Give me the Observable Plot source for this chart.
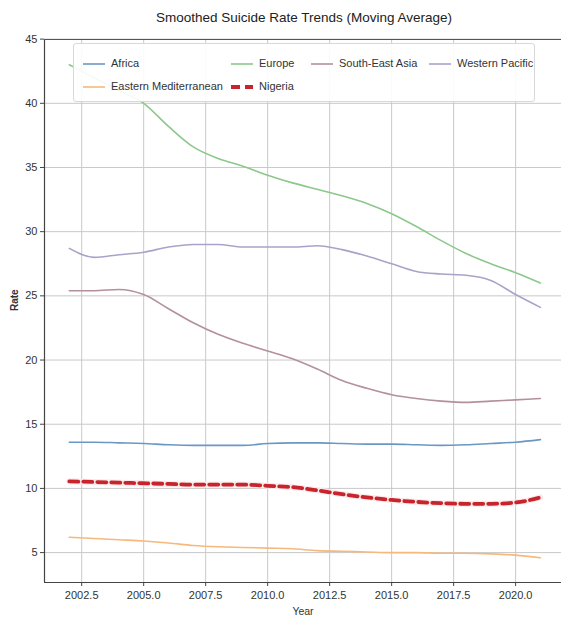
<!DOCTYPE html>
<html>
<head>
<meta charset="utf-8">
<script src="https://cdn.jsdelivr.net/npm/d3@7"></script>
<script src="https://cdn.jsdelivr.net/npm/@observablehq/plot@0.6"></script>
<style>
  body { margin: 0; background: #fff; }
  #wrap { position: relative; width: 561px; height: 630px; overflow: hidden;
          font-family: "Liberation Sans", Arial, sans-serif; color: #333; }
  #title { position: absolute; left: 0; top: 10px; width: 608px; text-align: center; font-size: 13.5px; color: #222; }
  #plot { position: absolute; left: 0; top: 30px; }
  #legend { position: absolute; left: 73px; top: 43px; width: 462px; height: 59px; box-sizing: border-box;
            background: rgba(255,255,255,0.9); border: 1px solid #d8d8d8; border-radius: 3px; }
  .item { position: absolute; font-size: 11px; color: #333; white-space: nowrap; line-height: 14px; }
  .item svg { vertical-align: middle; margin-right: 5px; }
</style>
</head>
<body>
<div id="wrap">
  <div id="title">Smoothed Suicide Rate Trends (Moving Average)</div>
  <div id="plot"></div>
  <div id="legend"></div>
</div>
<script>
// Years covered by the smoothed series
const years = [2002, 2003, 2004, 2005, 2006, 2007, 2008, 2009, 2010, 2011,
               2012, 2013, 2014, 2015, 2016, 2017, 2018, 2019, 2020, 2021];

// Moving-average suicide rates per WHO region and for Nigeria
const africa        = [13.6, 13.6, 13.55, 13.5, 13.4, 13.35, 13.35, 13.35, 13.5, 13.55,
                       13.55, 13.5, 13.45, 13.45, 13.4, 13.35, 13.4, 13.5, 13.6, 13.8];
const easternMed    = [6.2, 6.1, 6.0, 5.9, 5.75, 5.55, 5.45, 5.4, 5.35, 5.3,
                       5.15, 5.1, 5.05, 5.0, 5.0, 4.95, 4.95, 4.9, 4.8, 4.6];
const europe        = [43.0, 42.0, 41.0, 40.0, 38.2, 36.6, 35.7, 35.1, 34.4, 33.8,
                       33.3, 32.8, 32.2, 31.4, 30.4, 29.3, 28.3, 27.5, 26.8, 26.0];
const southEastAsia = [25.4, 25.4, 25.5, 25.1, 24.0, 22.9, 22.0, 21.3, 20.7, 20.1,
                       19.3, 18.4, 17.8, 17.3, 17.0, 16.8, 16.7, 16.8, 16.9, 17.0];
const westernPac    = [28.7, 28.0, 28.2, 28.4, 28.8, 29.0, 29.0, 28.8, 28.8, 28.8,
                       28.9, 28.6, 28.1, 27.5, 26.9, 26.7, 26.6, 26.2, 25.1, 24.1];
const nigeria       = [10.55, 10.5, 10.45, 10.4, 10.35, 10.3, 10.3, 10.3, 10.2, 10.1,
                       9.85, 9.55, 9.3, 9.1, 8.95, 8.85, 8.8, 8.8, 8.9, 9.3];

const xTicks = [2002.5, 2005.0, 2007.5, 2010.0, 2012.5, 2015.0, 2017.5, 2020.0];
const yTicks = [5, 10, 15, 20, 25, 30, 35, 40, 45];

const regions = [
  {name: "Africa", values: africa, color: "#6a98c4"},
  {name: "Eastern Mediterranean", values: easternMed, color: "#f6b97c"},
  {name: "Europe", values: europe, color: "#8cc88c"},
  {name: "South-East Asia", values: southEastAsia, color: "#b4909b"},
  {name: "Western Pacific", values: westernPac, color: "#aca2c9"}
];
const nigeriaColor = "#c8242d";

const rows = r => years.map((year, i) => ({year, rate: r.values[i], name: r.name}));
const nigeriaRows = years.map((year, i) => ({year, rate: nigeria[i]}));

const xDomain = [2001.0, 2021.85];
const yDomain = [2.67, 44.97];
const font = "'Liberation Sans', Arial, sans-serif";

const chart = Plot.plot({
  width: 561,
  height: 600,
  marginTop: 9,
  marginBottom: 48,
  marginLeft: 44,
  marginRight: 0,
  style: {fontFamily: font, fontSize: "11px", color: "#333"},
  x: {domain: xDomain, label: null},
  y: {domain: yDomain, label: null},
  marks: [
    Plot.gridX(xTicks, {stroke: "#c9c9c9", strokeOpacity: 1, strokeWidth: 1}),
    Plot.gridY(yTicks, {stroke: "#c9c9c9", strokeOpacity: 1, strokeWidth: 1}),
    ...regions.map(r => Plot.line(rows(r), {x: "year", y: "rate", stroke: r.color, strokeWidth: 1.6, curve: "monotone-x"})),
    // Nigeria: soft halo beneath a thick dashed line
    Plot.line(nigeriaRows, {x: "year", y: "rate", stroke: "#fbe9ea", strokeWidth: 6, curve: "monotone-x"}),
    Plot.line(nigeriaRows, {x: "year", y: "rate", stroke: nigeriaColor, strokeWidth: 3.8, curve: "monotone-x", strokeDasharray: "9,5"}),
    Plot.ruleX([xDomain[0]], {stroke: "#444", strokeWidth: 1.2}),
    Plot.ruleY([yDomain[0]], {stroke: "#444", strokeWidth: 1.2}),
    Plot.ruleY([yDomain[1]], {stroke: "#555", strokeWidth: 1.2}),
    Plot.axisX(xTicks, {tickFormat: d3.format(".1f"), tickSize: 4, tickPadding: 5, stroke: "#444", fill: "#333", fontSize: 11}),
    Plot.axisY(yTicks, {tickFormat: d3.format("d"), tickSize: 4, tickPadding: 3, stroke: "#444", fill: "#333", fontSize: 11}),
    Plot.text(["Year"], {frameAnchor: "bottom", dy: 32, fontSize: 10.5, fill: "#333"}),
    Plot.text(["Rate"], {frameAnchor: "left", dx: -30, rotate: -90, fontSize: 10, fontWeight: "bold", fill: "#333"})
  ]
});
document.getElementById("plot").appendChild(chart);

// Legend: four columns, filled column by column
const legendItems = [
  {name: "Africa", color: regions[0].color, col: 0, row: 0},
  {name: "Eastern Mediterranean", color: regions[1].color, col: 0, row: 1},
  {name: "Europe", color: regions[2].color, col: 1, row: 0},
  {name: "Nigeria", color: nigeriaColor, col: 1, row: 1, dashed: true},
  {name: "South-East Asia", color: regions[3].color, col: 2, row: 0},
  {name: "Western Pacific", color: regions[4].color, col: 3, row: 0}
];
const colX = [8, 156, 236, 354];
const rowY = [12, 35];
const legend = d3.select("#legend");
for (const it of legendItems) {
  const div = legend.append("div").attr("class", "item")
    .style("left", colX[it.col] + "px").style("top", rowY[it.row] + "px");
  const s = div.append("svg").attr("width", 24).attr("height", 8);
  s.append("line").attr("x1", 1).attr("x2", 23).attr("y1", 4).attr("y2", 4)
    .attr("stroke", it.color)
    .attr("stroke-width", it.dashed ? 3.8 : 1.6)
    .attr("stroke-dasharray", it.dashed ? "9,5" : null);
  div.append("span").text(it.name);
}
</script>
</body>
</html>
